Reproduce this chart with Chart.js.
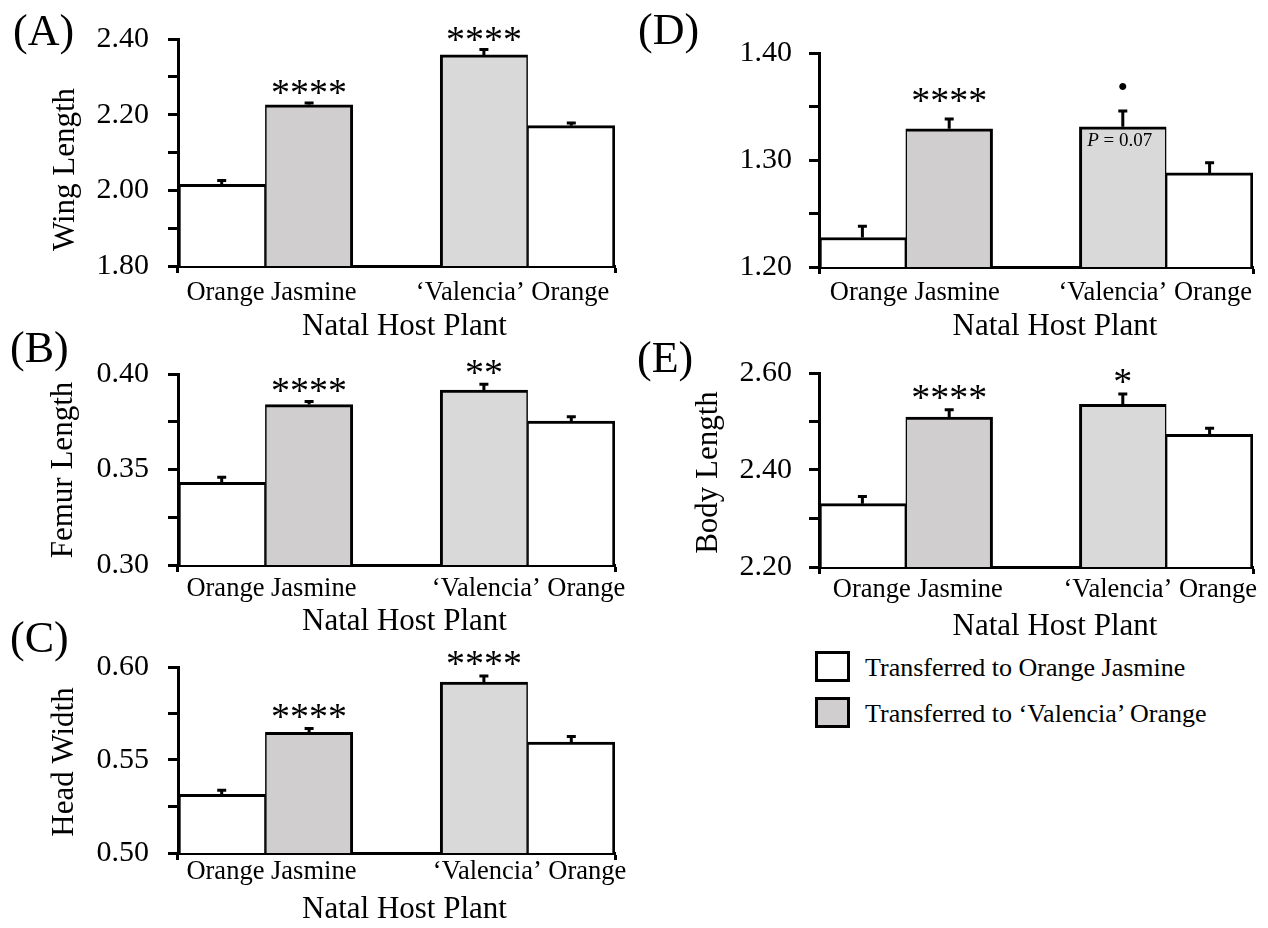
<!DOCTYPE html>
<html>
<head>
<meta charset="utf-8">
<script src="https://cdn.jsdelivr.net/npm/chart.js@4.4.1/dist/chart.umd.min.js"></script>
<style>
  html, body { margin: 0; padding: 0; background: #ffffff; }
  body { width: 1268px; height: 928px; position: relative; overflow: hidden;
         font-family: 'Liberation Serif', 'Times New Roman', serif; color: #000; }
  canvas { position: absolute; }
  .key-box { position: absolute; width: 35px; height: 31px; box-sizing: border-box; border: 3px solid #000; }
  .key-text { position: absolute; font-size: 26px; line-height: 26px; white-space: nowrap; }
</style>
</head>
<body>
<canvas id="panelA" width="640" height="340" style="left:0px;top:0px"></canvas>
<canvas id="panelB" width="640" height="312" style="left:0px;top:325px"></canvas>
<canvas id="panelC" width="640" height="308" style="left:0px;top:620px"></canvas>
<canvas id="panelD" width="638" height="340" style="left:630px;top:0px"></canvas>
<canvas id="panelE" width="638" height="310" style="left:630px;top:330px"></canvas>
<div id="key"></div>
<script>
// Natal host plants (x-axis groups) and transfer treatments (series)
const natalHosts = ['Orange Jasmine', '‘Valencia’ Orange'];
const treatments = ['Transferred to Orange Jasmine', 'Transferred to ‘Valencia’ Orange'];
const xAxisTitle = 'Natal Host Plant';

// (A) Wing length — mean and SE per natal host
const wingToJasmine = [2.016, 2.171];
const wingToValencia = [2.226, 2.358];
const wingSeJasmine = [0.010, 0.007];
const wingSeValencia = [0.005, 0.014];
const wingMarks = ['****', '****'];
const wingRange = [1.80, 2.40, 0.10];
const wingTickLabels = ['1.80', '2.00', '2.20', '2.40'];

// (B) Femur length
const femurToJasmine = [0.3433, 0.3754];
const femurToValencia = [0.3840, 0.3916];
const femurSeJasmine = [0.0026, 0.0022];
const femurSeValencia = [0.0016, 0.0030];
const femurMarks = ['****', '**'];
const femurRange = [0.30, 0.40, 0.025];
const femurTickLabels = ['0.30', '0.35', '0.40'];

// (C) Head width
const headToJasmine = [0.5315, 0.5597];
const headToValencia = [0.5649, 0.5919];
const headSeJasmine = [0.0022, 0.0030];
const headSeValencia = [0.0020, 0.0032];
const headMarks = ['****', '****'];
const headRange = [0.50, 0.60, 0.025];
const headTickLabels = ['0.50', '0.55', '0.60'];

// (D) unlabelled measure
const dToJasmine = [1.2276, 1.2879];
const dToValencia = [1.3292, 1.3310];
const dSeJasmine = [0.0104, 0.0095];
const dSeValencia = [0.0092, 0.0149];
const dMarks = ['****', '•'];
const dPNotes = [null, '0.07'];
const dRange = [1.20, 1.40, 0.05];
const dTickLabels = ['1.20', '1.30', '1.40'];

// (E) Body length
const bodyToJasmine = [2.3306, 2.4735];
const bodyToValencia = [2.5090, 2.5354];
const bodySeJasmine = [0.0150, 0.0125];
const bodySeValencia = [0.0150, 0.0215];
const bodyMarks = ['****', '*'];
const bodyRange = [2.20, 2.60, 0.10];
const bodyTickLabels = ['2.20', '2.40', '2.60'];

const SERIF = "'Liberation Serif', 'Times New Roman', serif";
const WHITE = '#ffffff';
const GREY_JASMINE = '#d0cece';
const GREY_VALENCIA = '#d9d9d9';

// Bar order along the axis: host 1 (to Jasmine, to Valencia), empty slot, host 2 (to Valencia, to Jasmine)
function toSlots(jasmine, valencia) {
  return {
    jasmine: [jasmine[0], null, null, null, jasmine[1]],
    valencia: [null, valencia[0], null, valencia[1], null]
  };
}

// Error bars plus significance marks / notes above and inside the bars
const errorBars = {
  id: 'errorBars',
  afterDatasetsDraw(chart, args, opts) {
    const { ctx } = chart;
    const y = chart.scales.y;
    ctx.save();
    ctx.strokeStyle = '#000';
    ctx.fillStyle = '#000';
    ctx.lineWidth = 3;
    chart.data.datasets.forEach((ds, i) => {
      const meta = chart.getDatasetMeta(i);
      meta.data.forEach((bar, j) => {
        const v = ds.data[j];
        if (v === null || v === undefined) return;
        const top = y.getPixelForValue(v + ds.se[j]);
        ctx.beginPath();
        ctx.moveTo(bar.x, bar.y);
        ctx.lineTo(bar.x, top);
        ctx.moveTo(bar.x - 4.5, top);
        ctx.lineTo(bar.x + 4.5, top);
        ctx.stroke();
        const mark = ds.marks ? ds.marks[j] : null;
        if (mark) {
          ctx.font = (mark === '•' ? '30px ' : '38px ') + SERIF;
          ctx.textAlign = 'center';
          ctx.textBaseline = 'alphabetic';
          const m = ctx.measureText(mark);
          const centre = top - 1.5 - opts.markGap;
          const base = centre + (m.actualBoundingBoxAscent - m.actualBoundingBoxDescent) / 2;
          ctx.fillText(mark, bar.x, base);
        }
        const note = ds.notes ? ds.notes[j] : null;
        if (note) {
          ctx.textBaseline = 'middle';
          ctx.textAlign = 'left';
          ctx.font = 'italic 19px ' + SERIF;
          const wP = ctx.measureText('P').width;
          ctx.font = '19px ' + SERIF;
          const rest = ' = ' + note;
          const wR = ctx.measureText(rest).width;
          const x0 = bar.x - 3 - (wP + wR) / 2;
          const yc = bar.y + 14;
          ctx.font = 'italic 19px ' + SERIF;
          ctx.fillText('P', x0, yc);
          ctx.font = '19px ' + SERIF;
          ctx.fillText(rest, x0 + wP, yc);
        }
      });
    });
    ctx.restore();
  }
};

// Panel letter, axis titles and natal-host labels
const panelText = {
  id: 'panelText',
  afterDraw(chart, args, o) {
    const { ctx, chartArea: a } = chart;
    const x = chart.scales.x;
    ctx.save();
    ctx.fillStyle = '#000';
    ctx.textBaseline = 'alphabetic';
    ctx.textAlign = 'left';
    ctx.font = '44px ' + SERIF;
    ctx.fillText(o.letter, o.letterAt[0], o.letterAt[1]);

    if (o.yTitle) {
      ctx.save();
      ctx.translate(o.yTitleAt[0], o.yTitleAt[1]);
      ctx.rotate(-Math.PI / 2);
      ctx.font = '31px ' + SERIF;
      ctx.textAlign = 'center';
      ctx.textBaseline = 'middle';
      ctx.fillText(o.yTitle, 0, 0);
      ctx.restore();
    }

    ctx.textAlign = 'center';
    ctx.font = '26.5px ' + SERIF;
    const pairs = [[0, 1], [3, 4]];
    natalHosts.forEach((host, k) => {
      const edge = (x.getPixelForValue(pairs[k][0]) + x.getPixelForValue(pairs[k][1])) / 2;
      ctx.fillText(host, edge + o.labelDx[k], a.bottom + o.labelDy);
    });

    ctx.font = '31px ' + SERIF;
    ctx.fillText(xAxisTitle, (a.left + a.right) / 2 + o.titleDx, a.bottom + o.titleDy);
    ctx.restore();
  }
};

function makePanel(p) {
  const vals = toSlots(p.toJasmine, p.toValencia);
  const errs = toSlots(p.seJasmine, p.seValencia);
  const marks = [null, p.marks[0], null, p.marks[1], null];
  const notes = p.notes ? [null, p.notes[0], null, p.notes[1], null] : null;
  const slotLabels = [natalHosts[0], natalHosts[0], '', natalHosts[1], natalHosts[1]];
  const canvas = document.getElementById(p.canvas);
  const L = p.layout;

  return new Chart(canvas, {
    type: 'bar',
    data: {
      labels: slotLabels,
      datasets: [
        { label: treatments[0], data: vals.jasmine, se: errs.jasmine,
          backgroundColor: WHITE },
        { label: treatments[1], data: vals.valencia, se: errs.valencia, marks: marks, notes: notes,
          backgroundColor: (c) => (c.dataIndex < 2 ? GREY_JASMINE : GREY_VALENCIA) }
      ]
    },
    options: {
      responsive: false,
      animation: false,
      events: [],
      devicePixelRatio: 1,
      layout: { autoPadding: false, padding: { left: 0, top: L.padTop, right: L.padRight, bottom: 0 } },
      datasets: {
        bar: {
          categoryPercentage: 1,
          barPercentage: 1,
          borderColor: '#000',
          // neighbouring bars share one 3px edge
          borderWidth: (c) => {
            const i = c.dataIndex;
            return { top: 3, bottom: 0,
                     left: (i === 1 || i === 4) ? 1.5 : 3,
                     right: (i === 0 || i === 3) ? 1.5 : 3 };
          }
        }
      },
      plugins: {
        legend: { display: false },
        tooltip: { enabled: false },
        errorBars: { markGap: L.markGap },
        panelText: {
          letter: p.letter, letterAt: L.letterAt,
          yTitle: p.yTitle, yTitleAt: L.yTitleAt,
          labelDx: L.labelDx, labelDy: L.labelDy,
          titleDx: L.titleDx, titleDy: L.titleDy
        }
      },
      scales: {
        x: {
          stacked: true,
          offset: true,
          ticks: { display: false },
          grid: {
            display: true,
            drawOnChartArea: false,
            drawTicks: true,
            tickLength: 7,
            tickWidth: 3,
            // only the two outer boundary ticks are shown
            tickColor: (c) => (c.index === 0 || c.index === undefined) ? '#000' : 'rgba(0,0,0,0)'
          },
          border: { display: true, color: '#000', width: 3 },
          afterFit: (s) => { s.height = L.xHeight; }
        },
        y: {
          min: p.range[0],
          max: p.range[1],
          ticks: {
            stepSize: p.range[2],
            autoSkip: false,
            padding: L.tickPad,
            color: '#000',
            font: { family: SERIF, size: 30 },
            callback: (v) => {
              const s = Number(v).toFixed(2);
              return p.tickLabels.includes(s) && Math.abs(Number(s) - v) < 1e-6 ? s : '';
            }
          },
          grid: { drawOnChartArea: false, drawTicks: true, tickLength: 10, tickWidth: 3, tickColor: '#000' },
          border: { display: true, color: '#000', width: 3 },
          afterFit: (s) => { s.width = L.yWidth; }
        }
      }
    },
    plugins: [errorBars, panelText]
  });
}

const panels = [
  { canvas: 'panelA', letter: '(A)', yTitle: 'Wing Length',
    toJasmine: wingToJasmine, toValencia: wingToValencia, seJasmine: wingSeJasmine, seValencia: wingSeValencia,
    marks: wingMarks, range: wingRange, tickLabels: wingTickLabels,
    layout: { yWidth: 178, padTop: 39, padRight: 25, xHeight: 74, tickPad: 19, markGap: 14,
              letterAt: [13, 45], yTitleAt: [66, 169.5], labelDx: [6, -15], labelDy: 34, titleDx: 8, titleDy: 69 } },
  { canvas: 'panelB', letter: '(B)', yTitle: 'Femur Length',
    toJasmine: femurToJasmine, toValencia: femurToValencia, seJasmine: femurSeJasmine, seValencia: femurSeValencia,
    marks: femurMarks, range: femurRange, tickLabels: femurTickLabels,
    layout: { yWidth: 178, padTop: 49, padRight: 25, xHeight: 72, tickPad: 19, markGap: 15,
              letterAt: [10, 37], yTitleAt: [64, 145], labelDx: [6, 1], labelDy: 31, titleDx: 8, titleDy: 65 } },
  { canvas: 'panelC', letter: '(C)', yTitle: 'Head Width',
    toJasmine: headToJasmine, toValencia: headToValencia, seJasmine: headSeJasmine, seValencia: headSeValencia,
    marks: headMarks, range: headRange, tickLabels: headTickLabels,
    layout: { yWidth: 178, padTop: 47, padRight: 25, xHeight: 75, tickPad: 19, markGap: 16,
              letterAt: [10, 32], yTitleAt: [65, 142], labelDx: [6, 2], labelDy: 26, titleDx: 8, titleDy: 65 } },
  { canvas: 'panelD', letter: '(D)', yTitle: '',
    toJasmine: dToJasmine, toValencia: dToValencia, seJasmine: dSeJasmine, seValencia: dSeValencia,
    marks: dMarks, notes: dPNotes, range: dRange, tickLabels: dTickLabels,
    layout: { yWidth: 189, padTop: 53, padRight: 15, xHeight: 73, tickPad: 17, markGap: 22,
              letterAt: [8, 44], yTitleAt: [0, 0], labelDx: [9, -11], labelDy: 33, titleDx: 19, titleDy: 68 } },
  { canvas: 'panelE', letter: '(E)', yTitle: 'Body Length',
    toJasmine: bodyToJasmine, toValencia: bodyToValencia, seJasmine: bodySeJasmine, seValencia: bodySeValencia,
    marks: bodyMarks, range: bodyRange, tickLabels: bodyTickLabels,
    layout: { yWidth: 189, padTop: 43, padRight: 15, xHeight: 73, tickPad: 17, markGap: 16,
              letterAt: [7, 42], yTitleAt: [79, 142.5], labelDx: [12, -6], labelDy: 30, titleDx: 19, titleDy: 68 } }
];

panels.forEach(makePanel);

// Key for the two transfer treatments
const key = document.getElementById('key');
const keyFill = [WHITE, GREY_JASMINE];
const keyTop = [651, 697];
treatments.forEach((name, k) => {
  const box = document.createElement('div');
  box.className = 'key-box';
  box.style.left = '815px';
  box.style.top = keyTop[k] + 'px';
  box.style.background = keyFill[k];
  key.appendChild(box);
  const txt = document.createElement('div');
  txt.className = 'key-text';
  txt.style.left = '865px';
  txt.style.top = (keyTop[k] + 4) + 'px';
  txt.textContent = name;
  key.appendChild(txt);
});
</script>
</body>
</html>
